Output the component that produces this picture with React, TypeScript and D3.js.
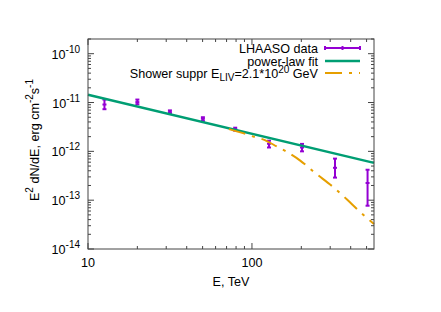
import * as d3 from 'd3'

// LHAASO data points: energy (TeV), flux, lower and upper error
const energies = [12.6, 20, 31.6, 50.2, 79, 127, 202, 321, 507]
const fluxes = [9.1e-12, 1.02e-11, 6.35e-12, 4.65e-12, 2.85e-12, 1.43e-12, 1.2e-12, 4.6e-13, 2.25e-13]
const fluxLow = [7.3e-12, 9.2e-12, 5.9e-12, 4.2e-12, 2.65e-12, 1.2e-12, 1.0e-12, 2.9e-13, 7.7e-14]
const fluxHigh = [1.15e-11, 1.15e-11, 6.9e-12, 5.0e-12, 3.05e-12, 1.65e-12, 1.42e-12, 7.1e-13, 4.2e-13]

// power-law fit (straight in log-log)
const fitE = [10, 555]
const fitF = [1.44e-11, 5.8e-13]

// shower suppression curve
const supE = [72.4, 93.2, 104.3, 116.7, 144, 161, 196, 239, 321, 380, 456, 555]
const supF = [2.85e-12, 2.22e-12, 1.96e-12, 1.76e-12, 1.22e-12, 1.0e-12, 6.55e-13, 3.78e-13, 1.73e-13, 1.03e-13, 5.77e-14, 3.24e-14]

const xMajor = [10, 100]
const yMajorExp = [-14, -13, -12, -11, -10]

const W = 441
const H = 312
const left = 88
const right = 374
const top = 39
const bottom = 249

const PURPLE = '#9400D3'
const GREEN = '#009E73'
const ORANGE = '#E69F00'
const FONT = 'Liberation Sans, Arial, sans-serif'
const FS = 12.6
const SUP = 10

export default function App() {
  const x = d3.scaleLog().domain([10, 555]).range([left, right])
  const y = d3.scaleLog().domain([1e-14, 2e-10]).range([bottom, top])

  const xMinor: number[] = []
  for (const dec of [10, 100]) for (let k = 2; k <= 9; k++) if (dec * k <= 555) xMinor.push(dec * k)
  const yMinor: number[] = []
  for (const e of yMajorExp) for (let k = 2; k <= 9; k++) {
    const v = k * Math.pow(10, e)
    if (v <= 2e-10) yMinor.push(v)
  }

  const fitLine = d3.line<number>().x((_, i) => x(fitE[i])).y((d) => y(d))(fitF) || ''
  const supLine = d3.line<number>().x((_, i) => x(supE[i])).y((d) => y(d)).curve(d3.curveMonotoneX)(supF) || ''

  const cap = 2
  const leg = { x1: 325, x2: 360, tx: 318 }

  return (
    <svg width={W} height={H} style={{ position: 'absolute', left: 0, top: 0, background: '#fff' }} fontFamily={FONT}>
      {/* ticks */}
      <g stroke="#444" strokeWidth={1}>
        {xMajor.map((v) => (
          <g key={'xm' + v}>
            <line x1={x(v)} x2={x(v)} y1={bottom} y2={bottom - 6} />
            <line x1={x(v)} x2={x(v)} y1={top} y2={top + 6} />
          </g>
        ))}
        {xMinor.map((v) => (
          <g key={'xn' + v}>
            <line x1={x(v)} x2={x(v)} y1={bottom} y2={bottom - 3} />
            <line x1={x(v)} x2={x(v)} y1={top} y2={top + 3} />
          </g>
        ))}
        {yMajorExp.map((e) => (
          <g key={'ym' + e}>
            <line x1={left} x2={left + 6} y1={y(Math.pow(10, e))} y2={y(Math.pow(10, e))} />
            <line x1={right} x2={right - 6} y1={y(Math.pow(10, e))} y2={y(Math.pow(10, e))} />
          </g>
        ))}
        {yMinor.map((v, i) => (
          <g key={'yn' + i}>
            <line x1={left} x2={left + 3} y1={y(v)} y2={y(v)} />
            <line x1={right} x2={right - 3} y1={y(v)} y2={y(v)} />
          </g>
        ))}
      </g>

      {/* tick labels */}
      <g fontSize={FS} fill="#000">
        {xMajor.map((v) => (
          <text key={'xl' + v} x={x(v)} y={267} textAnchor="middle">{v}</text>
        ))}
        {yMajorExp.map((e) => (
          <text key={'yl' + e} x={80} y={y(Math.pow(10, e)) + 5} textAnchor="end">
            10<tspan dy={-6} fontSize={SUP}>{e}</tspan>
          </text>
        ))}
      </g>

      {/* axis labels */}
      <text x={231} y={286} fontSize={FS} textAnchor="middle">E, TeV</text>
      <text transform="translate(39,140) rotate(-90)" fontSize={FS} textAnchor="middle">
        E<tspan dy={-6} fontSize={SUP}>2</tspan>
        <tspan dy={6}> dN/dE, erg cm</tspan>
        <tspan dy={-6} fontSize={SUP}>-2</tspan>
        <tspan dy={6}>s</tspan>
        <tspan dy={-6} fontSize={SUP}>-1</tspan>
      </text>

      {/* data */}
      <g stroke={PURPLE} strokeWidth={2}>
        {energies.map((e, i) => (
          <g key={'p' + i}>
            <line x1={x(e)} x2={x(e)} y1={y(fluxLow[i])} y2={y(fluxHigh[i])} />
            <line x1={x(e) - cap} x2={x(e) + cap} y1={y(fluxLow[i])} y2={y(fluxLow[i])} />
            <line x1={x(e) - cap} x2={x(e) + cap} y1={y(fluxHigh[i])} y2={y(fluxHigh[i])} />
            <line x1={x(e) - cap} x2={x(e) + cap} y1={y(fluxes[i])} y2={y(fluxes[i])} />
          </g>
        ))}
      </g>

      <path d={fitLine} fill="none" stroke={GREEN} strokeWidth={2.5} />
      <path d={supLine} fill="none" stroke={ORANGE} strokeWidth={2} strokeDasharray="17,7,3,7" />

      {/* border */}
      <rect x={left} y={top} width={right - left} height={bottom - top} fill="none" stroke="#444" strokeWidth={1} />

      {/* legend */}
      <g fontSize={FS} textAnchor="end">
        <text x={leg.tx} y={52.5}>LHAASO data</text>
        <text x={leg.tx} y={65.5}>power-law fit</text>
        <text x={leg.tx} y={78}>
          Shower suppr  E<tspan dy={3} fontSize={SUP}>LIV</tspan>
          <tspan dy={-3}>=2.1*10</tspan>
          <tspan dy={-5} fontSize={SUP}>20</tspan>
          <tspan dy={5}> GeV</tspan>
        </text>
      </g>
      <g stroke={PURPLE} strokeWidth={2}>
        <line x1={leg.x1} x2={leg.x2} y1={48} y2={48} />
        <line x1={leg.x1} x2={leg.x1} y1={46} y2={50} />
        <line x1={leg.x2} x2={leg.x2} y1={46} y2={50} />
        <line x1={(leg.x1 + leg.x2) / 2} x2={(leg.x1 + leg.x2) / 2} y1={46} y2={50} />
      </g>
      <line x1={leg.x1} x2={leg.x2} y1={61} y2={61} stroke={GREEN} strokeWidth={2.5} />
      <line x1={leg.x1} x2={leg.x2} y1={73} y2={73} stroke={ORANGE} strokeWidth={2} strokeDasharray="17,7,3,7" />
    </svg>
  )
}
